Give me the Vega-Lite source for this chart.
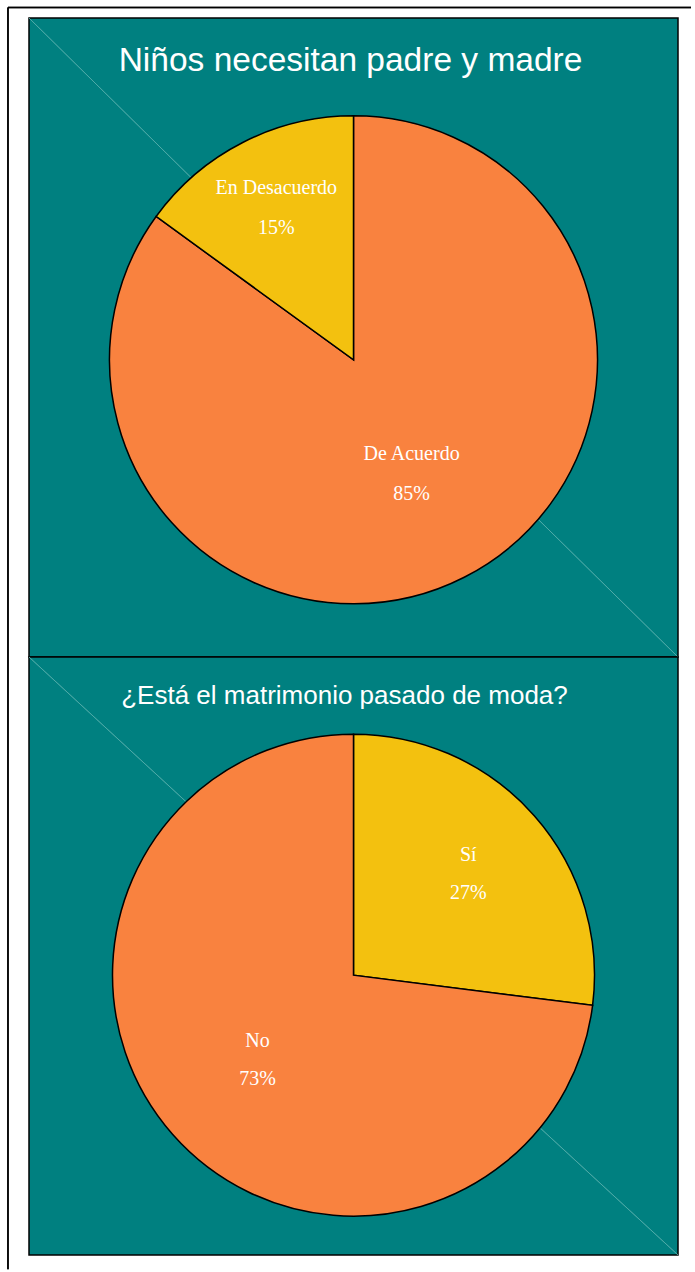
{
  "$schema": "https://vega.github.io/schema/vega-lite/v6.json",
  "background": "white",
  "padding": {"left": 6, "top": 5, "right": 0, "bottom": 0},
  "spacing": 0,
  "bounds": "flush",
  "config": {
    "view": {"fill": "#008080", "stroke": "black", "strokeWidth": 1.5},
    "title": {"font": "Liberation Sans", "fontWeight": "normal", "color": "white", "anchor": "middle", "baseline": "alphabetic"}
  },
  "datasets": {
    "p1": [
      {"category": "De Acuerdo", "value": 85, "pct": "85%"},
      {"category": "En Desacuerdo", "value": 15, "pct": "15%"}
    ],
    "p2": [
      {"category": "Sí", "value": 27, "pct": "27%"},
      {"category": "No", "value": 73, "pct": "73%"}
    ]
  },
  "vconcat": [
    {
      "width": 649,
      "height": 639,
      "view": {"fill": "#008080", "stroke": "black", "strokeWidth": 1.5},
      "title": {"text": "Niños necesitan padre y madre", "fontSize": 33.5, "offset": -72, "dx": -3},
      "data": {"name": "p1"},
      "layer": [
        {
          "mark": {"type": "rule", "stroke": "black", "strokeWidth": 1.5, "clip": false},
          "encoding": {
            "x": {"datum": -0.0324, "type": "quantitative", "scale": {"domain": [0, 1]}, "axis": null},
            "y": {"datum": 1.0165, "type": "quantitative", "scale": {"domain": [0, 1]}, "axis": null},
            "y2": {"datum": -0.958}
          }
        },
        {
          "mark": {"type": "rule", "stroke": "black", "strokeWidth": 1.5, "clip": false},
          "encoding": {
            "x": {"datum": -0.0324, "type": "quantitative"},
            "x2": {"datum": 1.02},
            "y": {"datum": 1.0165, "type": "quantitative"}
          }
        },
        {
          "mark": {"type": "rule", "stroke": "#5fb3b0", "strokeWidth": 0.6},
          "encoding": {
            "x": {"datum": 0, "type": "quantitative"},
            "x2": {"datum": 1},
            "y": {"datum": 1, "type": "quantitative"},
            "y2": {"datum": 0}
          }
        },
        {
          "mark": {"type": "arc", "radius": 244, "stroke": "black", "strokeWidth": 1.5},
          "encoding": {
            "y": {"datum": 0.465, "type": "quantitative"},
            "theta": {"field": "value", "type": "quantitative", "stack": true},
            "order": {"field": "category", "sort": "ascending"},
            "color": {"field": "category", "type": "nominal", "legend": null,
              "scale": {"domain": ["De Acuerdo", "En Desacuerdo", "Sí", "No"], "range": ["#F9823F", "#F3C10F", "#F3C10F", "#F9823F"]}}
          }
        },
        {
          "mark": {"type": "text", "font": "Liberation Serif", "fontSize": 20, "fill": "white", "baseline": "middle", "dy": -20,
            "radius": {"expr": "datum.category === 'En Desacuerdo' ? 170 : 128"}},
          "encoding": {
            "y": {"datum": 0.465, "type": "quantitative"},
            "theta": {"field": "value", "type": "quantitative", "stack": true},
            "order": {"field": "category", "sort": "ascending"},
            "text": {"field": "category"}
          }
        },
        {
          "mark": {"type": "text", "font": "Liberation Serif", "fontSize": 20, "fill": "white", "baseline": "middle", "dy": 20,
            "radius": {"expr": "datum.category === 'En Desacuerdo' ? 170 : 128"}},
          "encoding": {
            "y": {"datum": 0.465, "type": "quantitative"},
            "theta": {"field": "value", "type": "quantitative", "stack": true},
            "order": {"field": "category", "sort": "ascending"},
            "text": {"field": "pct"}
          }
        }
      ]
    },
    {
      "width": 649,
      "height": 598,
      "view": {"fill": "#008080", "stroke": "black", "strokeWidth": 1.5},
      "title": {"text": "¿Está el matrimonio pasado de moda?", "fontSize": 26, "offset": -52, "dx": -9},
      "data": {"name": "p2"},
      "layer": [
        {
          "mark": {"type": "rule", "stroke": "#5fb3b0", "strokeWidth": 0.6},
          "encoding": {
            "x": {"datum": 0, "type": "quantitative", "scale": {"domain": [0, 1]}, "axis": null},
            "x2": {"datum": 1},
            "y": {"datum": 1, "type": "quantitative", "scale": {"domain": [0, 1]}, "axis": null},
            "y2": {"datum": 0}
          }
        },
        {
          "mark": {"type": "arc", "radius": 241, "stroke": "black", "strokeWidth": 1.5},
          "encoding": {
            "y": {"datum": 0.468, "type": "quantitative"},
            "theta": {"field": "value", "type": "quantitative", "stack": true},
            "order": {"field": "category", "sort": "descending"},
            "color": {"field": "category", "type": "nominal", "legend": null,
              "scale": {"domain": ["De Acuerdo", "En Desacuerdo", "Sí", "No"], "range": ["#F9823F", "#F3C10F", "#F3C10F", "#F9823F"]}}
          }
        },
        {
          "mark": {"type": "text", "font": "Liberation Serif", "fontSize": 20, "fill": "white", "baseline": "middle", "dy": -19,
            "radius": {"expr": "datum.category === 'Sí' ? 153 : 128"}},
          "encoding": {
            "y": {"datum": 0.468, "type": "quantitative"},
            "theta": {"field": "value", "type": "quantitative", "stack": true},
            "order": {"field": "category", "sort": "descending"},
            "text": {"field": "category"}
          }
        },
        {
          "mark": {"type": "text", "font": "Liberation Serif", "fontSize": 20, "fill": "white", "baseline": "middle", "dy": 19,
            "radius": {"expr": "datum.category === 'Sí' ? 153 : 128"}},
          "encoding": {
            "y": {"datum": 0.468, "type": "quantitative"},
            "theta": {"field": "value", "type": "quantitative", "stack": true},
            "order": {"field": "category", "sort": "descending"},
            "text": {"field": "pct"}
          }
        }
      ]
    }
  ]
}
